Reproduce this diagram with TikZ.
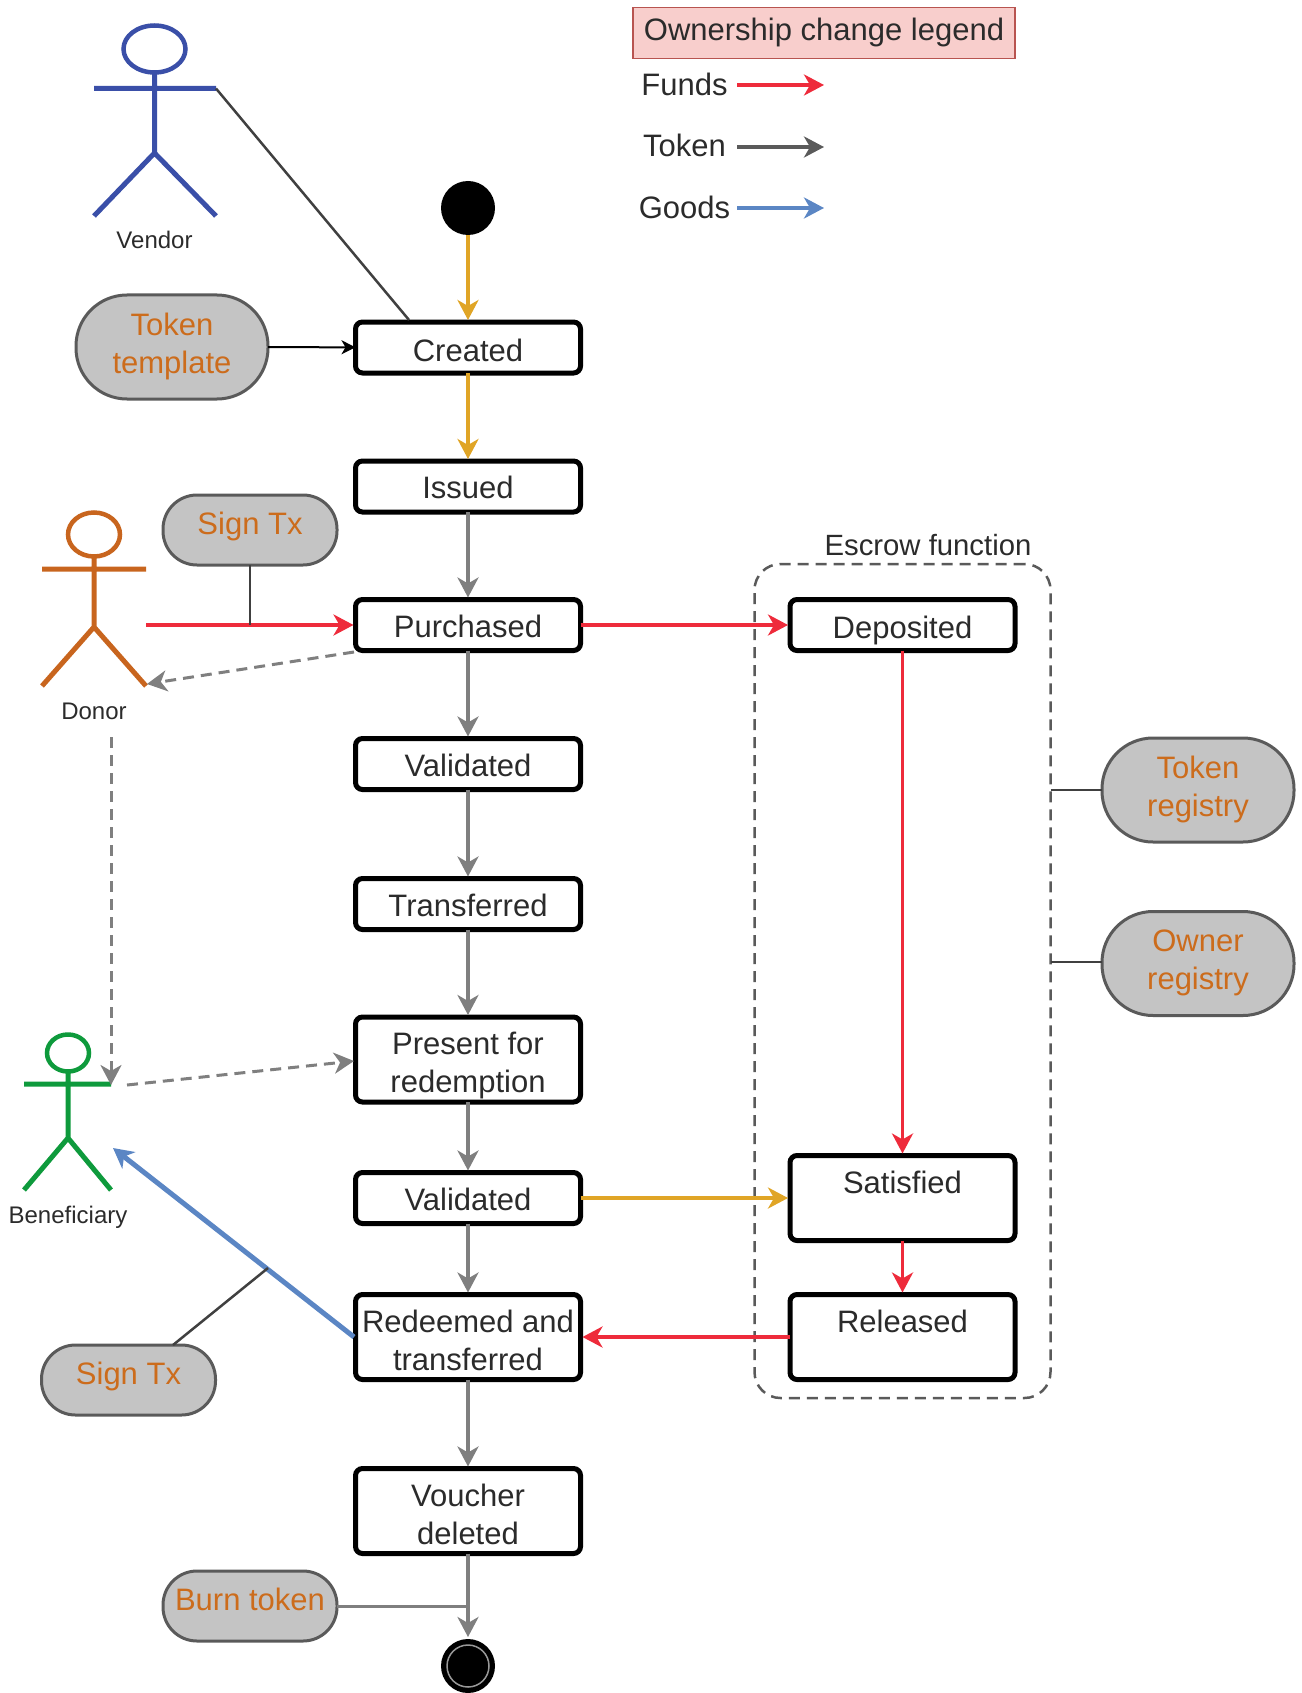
\documentclass[tikz,border=0pt]{standalone}
\usepackage{fontspec}
\setmainfont{Liberation Sans}
\usetikzlibrary{arrows.meta,shapes.geometric}
\definecolor{cgold}{HTML}{E0A526}
\definecolor{cred}{HTML}{EE2B3B}
\definecolor{cblue}{HTML}{5B86C4}
\definecolor{cgrey}{HTML}{7F7F7F}
\definecolor{cdark}{HTML}{404040}
\definecolor{cedge}{HTML}{5A5A5A}
\definecolor{cfill}{HTML}{C4C4C4}
\definecolor{corange}{HTML}{CC6C1C}
\definecolor{ctext}{HTML}{2B2B2B}
\definecolor{cvendor}{HTML}{3A4FA8}
\definecolor{cdonor}{HTML}{C8651E}
\definecolor{cbenef}{HTML}{0E9A3C}
\newcommand\stl{\rule[-5pt]{0pt}{38pt}}
\newcommand\sta{\rule[-7pt]{0pt}{38pt}}
\newcommand\stp{\rule[-3pt]{0pt}{38pt}}
\newcommand\stg{\rule[-11pt]{0pt}{38pt}}
\newcommand\ptl{\rule[-12pt]{0pt}{38pt}}
\newcommand\sptl{\rule[-15pt]{0pt}{38pt}}
\tikzset{
  every node/.style={inner sep=0pt,outer sep=0pt,text=ctext,font=\fontsize{31}{38}\selectfont,align=center},
  tipp/.style={-{Stealth[length=20pt,width=21pt,inset=6pt]}},
  statebox/.style={draw=black,line width=5pt,fill=white,rounded corners=7pt,minimum width=225pt},
  oneline/.style={statebox,minimum height=51pt},
  twoline/.style={statebox,minimum height=85pt},
  pillbig/.style={draw=cedge,line width=3pt,fill=cfill,rounded corners=51pt,minimum width=192pt,minimum height=104pt,text=corange},
  pillsmall/.style={draw=cedge,line width=3pt,fill=cfill,rounded corners=34pt,minimum width=174pt,minimum height=70pt,text=corange},
  flow/.style={tipp,draw=cgrey,line width=3.5pt,shorten >=2pt},
  goldflow/.style={tipp,draw=cgold,line width=4pt,shorten >=2pt},
  redflow/.style={tipp,draw=cred,line width=3.5pt,shorten >=2pt},
  blueflow/.style={tipp,draw=cblue,line width=5pt},
  thin link/.style={draw=cdark,line width=2.5pt},
  dashflow/.style={tipp,draw=cgrey,line width=3pt,dash pattern=on 11pt off 7pt},
  actorline/.style={line width=5pt,line cap=butt,line join=round},
  small label/.style={font=\fontsize{24}{28}\selectfont},
}
\begin{document}
\begin{tikzpicture}[x=1pt,y=-1pt]
\useasboundingbox (0,0) rectangle (1301,1693);
% legend
\node[draw={rgb,255:red,184;green,84;blue,80},line width=1.5pt,fill={rgb,255:red,248;green,206;blue,204},minimum width=382pt,minimum height=51pt] (legend) at (824,33) {\stg Ownership change legend};
\node (funds) at (684.5,84) {Funds};
\node (tokenl) at (684.5,145) {Token};
\node (goods) at (684.5,207) {Goods};
\coordinate (fe) at (824,85);
\coordinate (te) at (824,147);
\coordinate (ge) at (824,208);
\coordinate (fs) at (737,85);
\coordinate (ts) at (737,147);
\coordinate (gs) at (737,208);
\draw[redflow,shorten >=0pt] (fs) -- (fe);
\draw[tipp,draw=cedge,line width=3.5pt] (ts) -- (te);
\draw[tipp,draw=cblue,line width=3.5pt] (gs) -- (ge);
% escrow
\node[draw=cedge,line width=2.5pt,dash pattern=on 11pt off 7pt,rounded corners=26pt,minimum width=296pt,minimum height=834pt] (escrow) at (902.5,981) {};
\node (escrowt) at (928,545) {\fontsize{29.3}{36}\selectfont Escrow function};
% start / end
\node[circle,fill=black,minimum size=54pt] (start) at (468,208) {};
\node[circle,fill=black,minimum size=54pt] (endo) at (468,1666) {};
\node[circle,draw=white!60!black,line width=1.5pt,minimum size=42pt] (endi) at (468,1666) {};
% state boxes
\node[oneline] (created) at (468,347.5) {\stl Created};
\node[oneline] (issued) at (468,486.5) {\sta Issued};
\node[oneline] (purchased) at (468,625) {\sta Purchased};
\node[oneline] (valid1) at (468,764) {\sta Validated};
\node[oneline] (transf) at (468,904) {\sta Transferred};
\node[twoline] (present) at (468,1059.5) {\stp Present for\\\stp redemption};
\node[oneline] (valid2) at (468,1198) {\sta Validated};
\node[twoline] (redeem) at (468,1337) {\stl Redeemed and\\\stl transferred};
\node[twoline] (voucher) at (468,1511) {\stl Voucher\\\stl deleted};
\node[oneline] (deposited) at (902.5,625) {\stl Deposited};
\node[twoline] (satisfied) at (902.5,1198) {\stl Satisfied\\\stl ~};
\node[twoline] (released) at (902.5,1337) {\stl Released\\\stl ~};
% pills
\node[pillbig] (ttemplate) at (172,347) {\ptl Token\\\ptl template};
\node[pillbig] (tregistry) at (1198,790) {\ptl Token\\\ptl registry};
\node[pillbig] (oregistry) at (1198,963.5) {\ptl Owner\\\ptl registry};
\node[pillsmall] (sign1) at (250,530) {\sptl Sign Tx};
\node[pillsmall] (sign2) at (128.5,1380) {\sptl Sign Tx};
\node[pillsmall] (burn) at (250,1606) {\sptl Burn token};
% vendor
\node[draw=cvendor,line width=4.5pt,ellipse,minimum width=62pt,minimum height=47pt] (vhead) at (154.5,49) {};
\coordinate (varmL) at (94,88.5);
\coordinate (varmR) at (216,88.5);
\coordinate (vhip) at (154.5,153);
\coordinate (vfootL) at (94,216);
\coordinate (vfootR) at (216,216);
\draw[cvendor,actorline] (vhead.south) -- (vhip) (varmL) -- (varmR) (vfootL) -- (vhip) -- (vfootR);
\node[small label] (vlabel) at (154.5,240) {Vendor};
% donor
\node[draw=cdonor,line width=4.5pt,ellipse,minimum width=52pt,minimum height=44pt] (dhead) at (94,534.5) {};
\coordinate (darmL) at (42,569);
\coordinate (darmR) at (146,569);
\coordinate (dhip) at (94,627);
\coordinate (dfootL) at (42,686);
\coordinate (dfootR) at (146,686);
\draw[cdonor,actorline] (dhead.south) -- (dhip) (darmL) -- (darmR) (dfootL) -- (dhip) -- (dfootR);
\node[small label] (dlabel) at (94,711.5) {Donor};
% beneficiary
\node[draw=cbenef,line width=4.5pt,ellipse,minimum width=42pt,minimum height=37pt] (bhead) at (68,1053) {};
\coordinate (barmL) at (24,1084);
\coordinate (barmR) at (111,1084);
\coordinate (bhip) at (68,1138);
\coordinate (bfootL) at (24,1190);
\coordinate (bfootR) at (111,1190);
\draw[cbenef,actorline] (bhead.south) -- (bhip) (barmL) -- (barmR) (bfootL) -- (bhip) -- (bfootR);
\node[small label] (blabel) at (68,1217.5) {Beneficiary};
% connectors main column
\draw[goldflow] (start) -- (created);
\draw[goldflow] (created) -- (issued);
\draw[flow] (issued) -- (purchased);
\draw[flow] (purchased) -- (valid1);
\draw[flow] (valid1) -- (transf);
\draw[flow] (transf) -- (present);
\draw[flow] (present) -- (valid2);
\draw[flow] (valid2) -- (redeem);
\draw[flow] (redeem) -- (voucher);
\draw[flow] (voucher) -- (endo);
% right column
\draw[redflow] (deposited) -- (satisfied);
\draw[redflow] (satisfied) -- (released);
\draw[redflow] (released) -- (redeem);
\draw[redflow] (purchased) -- (deposited);
\draw[goldflow] (valid2) -- (satisfied);
% donor links
\coordinate (dfrom) at (146,625);
\coordinate (dsign) at (250,625);
\draw[redflow] (dfrom) -- (purchased);
\draw[thin link] (sign1) -- (dsign);
\coordinate (ppdash) at (354,652);
\coordinate (dret) at (147,684);
\draw[dashflow] (ppdash) -- (dret);
\coordinate (dd) at (111,737);
\coordinate (barmE) at (111,1085);
\draw[dashflow] (dd) -- (barmE);
\coordinate (bstart) at (127,1085);
\coordinate (pin) at (354,1061);
\draw[dashflow] (bstart) -- (pin);
% goods
\coordinate (rfrom) at (354,1337);
\coordinate (bto) at (113,1148);
\draw[blueflow] (rfrom) -- (bto);
\coordinate (sgt) at (268,1268);
\coordinate (sgb) at (173,1345);
\draw[thin link] (sgb) -- (sgt);
% vendor link
\coordinate (cvt) at (409,320);
\draw[thin link] (varmR) -- (cvt);
\draw[draw=black,line width=2pt,-{Stealth[length=14pt,width=14pt,inset=4pt]}] (ttemplate) -- (created);
% registry
\coordinate (er1) at (1050.5,790);
\coordinate (er2) at (1050.5,962);
\draw[thin link] (er1) -- (tregistry);
\draw[thin link] (er2) -- (oregistry.west |- er2);
\coordinate (burnj) at (468,1606);
\draw[draw=cgrey,line width=3pt] (burn) -- (burnj);
\end{tikzpicture}
\end{document}
